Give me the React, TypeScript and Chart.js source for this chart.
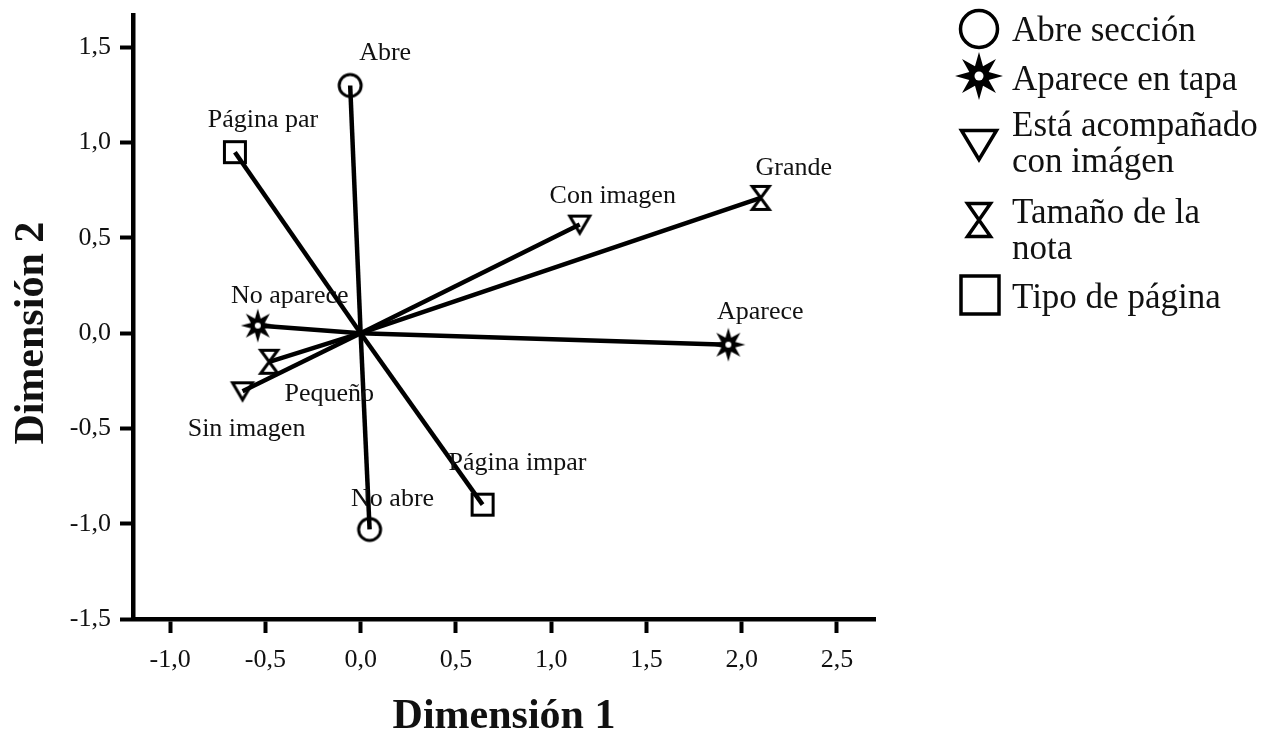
import React, { useEffect, useRef } from "react";
import { Chart, registerables } from "chart.js";

Chart.register(...registerables);

// ---------- data ----------
const categories = [
  "Abre",
  "No abre",
  "Página par",
  "Página impar",
  "Con imagen",
  "Sin imagen",
  "Grande",
  "Pequeño",
  "Aparece",
  "No aparece",
];
const dimension1 = [-0.055, 0.047, -0.66, 0.64, 1.15, -0.62, 2.1, -0.48, 1.93, -0.54];
const dimension2 = [1.3, -1.03, 0.95, -0.9, 0.57, -0.305, 0.71, -0.15, -0.06, 0.04];
const categoryMarkers = [
  "circle",
  "circle",
  "square",
  "square",
  "triangle",
  "triangle",
  "hourglass",
  "hourglass",
  "star",
  "star",
];
const xTickValues = [-1, -0.5, 0, 0.5, 1, 1.5, 2, 2.5];
const yTickValues = [-1.5, -1, -0.5, 0, 0.5, 1, 1.5];
const legendLabels = [
  ["Abre sección"],
  ["Aparece en tapa"],
  ["Está acompañado", "con imágen"],
  ["Tamaño de la", "nota"],
  ["Tipo de página"],
];
const legendMarkers = ["circle", "star", "triangle", "hourglass", "square"];
const xTitle = "Dimensión 1";
const yTitle = "Dimensión 2";

// ---------- layout / style (not data) ----------
const labelOffsets: [number, number][] = [
  [35, -32],
  [23, -30],
  [28, -32],
  [35, -42],
  [33, -28],
  [4, 38],
  [33, -30],
  [60, 32],
  [32, -32],
  [32, -29],
];
const legendMarkerPos: [number, number][] = [
  [979, 29],
  [979, 76],
  [979, 145],
  [979, 220],
  [980, 295],
];
const legendTextBaselines = [[41], [90], [136, 172], [223, 259], [308]];
const legendTextX = 1012;
const SERIF = "'Liberation Serif', 'Times New Roman', serif";

function makeMarker(kind: string, big: boolean): HTMLCanvasElement {
  const c = document.createElement("canvas");
  const size = big ? 56 : 40;
  c.width = size;
  c.height = size;
  const ctx = c.getContext("2d")!;
  ctx.translate(size / 2, size / 2);
  ctx.strokeStyle = "#000";
  ctx.fillStyle = "#000";
  ctx.lineJoin = "miter";
  ctx.lineWidth = big ? 3.5 : 3;
  if (kind === "circle") {
    const r = big ? 18.5 : 11;
    ctx.beginPath();
    ctx.arc(0, 0, r, 0, Math.PI * 2);
    ctx.stroke();
  } else if (kind === "square") {
    const s = big ? 38 : 21;
    ctx.strokeRect(-s / 2, -s / 2, s, s);
  } else if (kind === "triangle") {
    const w = big ? 35 : 20;
    const h = big ? 29 : 17;
    ctx.beginPath();
    ctx.moveTo(-w / 2, -h / 2);
    ctx.lineTo(w / 2, -h / 2);
    ctx.lineTo(0, h / 2);
    ctx.closePath();
    ctx.stroke();
  } else if (kind === "hourglass") {
    const w = big ? 23 : 17;
    const h = big ? 33 : 23;
    ctx.beginPath();
    ctx.moveTo(-w / 2, -h / 2);
    ctx.lineTo(w / 2, -h / 2);
    ctx.lineTo(-w / 2, h / 2);
    ctx.lineTo(w / 2, h / 2);
    ctx.closePath();
    ctx.stroke();
  } else if (kind === "star") {
    const R = big ? 24 : 17;
    const r = big ? 10.5 : 7.5;
    ctx.beginPath();
    for (let i = 0; i < 16; i++) {
      const a = -Math.PI / 2 + (i * Math.PI) / 8;
      const rad = i % 2 === 0 ? R : r;
      const px = Math.cos(a) * rad;
      const py = Math.sin(a) * rad;
      if (i === 0) ctx.moveTo(px, py);
      else ctx.lineTo(px, py);
    }
    ctx.closePath();
    ctx.fill();
    ctx.fillStyle = "#fff";
    ctx.beginPath();
    ctx.arc(0, 0, big ? 4.5 : 3, 0, Math.PI * 2);
    ctx.fill();
  }
  return c;
}

const fmt = (v: number) => v.toFixed(1).replace(".", ",");

export default function App() {
  const canvasRef = useRef<HTMLCanvasElement | null>(null);

  useEffect(() => {
    const canvas = canvasRef.current;
    if (!canvas) return;

    const smallMarkers: Record<string, HTMLCanvasElement> = {};
    const bigMarkers: Record<string, HTMLCanvasElement> = {};
    ["circle", "square", "triangle", "hourglass", "star"].forEach((k) => {
      smallMarkers[k] = makeMarker(k, false);
      bigMarkers[k] = makeMarker(k, true);
    });

    const datasets = categories.map((name, i) => ({
      label: name,
      data: [
        { x: 0, y: 0 },
        { x: dimension1[i], y: dimension2[i] },
      ],
      showLine: true,
      borderColor: "#000",
      borderWidth: 4.5,
      backgroundColor: "#000",
      pointRadius: [0, 8],
      pointHoverRadius: [0, 8],
      pointStyle: smallMarkers[categoryMarkers[i]] as any,
      clip: false as any,
    }));

    const decorPlugin = {
      id: "decor",
      afterDatasetsDraw(chart: any) {
        const ctx = chart.ctx as CanvasRenderingContext2D;
        ctx.save();
        ctx.fillStyle = "#111";
        ctx.font = `26px ${SERIF}`;
        ctx.textAlign = "center";
        ctx.textBaseline = "middle";
        categories.forEach((name, i) => {
          const pt = chart.getDatasetMeta(i).data[1];
          if (!pt) return;
          ctx.fillText(name, pt.x + labelOffsets[i][0], pt.y + labelOffsets[i][1]);
        });
        ctx.restore();
      },
      afterDraw(chart: any) {
        const ctx = chart.ctx as CanvasRenderingContext2D;
        // y axis title
        const yScale = chart.scales.y;
        ctx.save();
        ctx.translate(32, yScale.getPixelForValue(0));
        ctx.rotate(-Math.PI / 2);
        ctx.font = `bold 42px ${SERIF}`;
        ctx.fillStyle = "#111";
        ctx.textAlign = "center";
        ctx.textBaseline = "middle";
        ctx.fillText(yTitle, 0, 0);
        ctx.restore();

        // legend
        ctx.save();
        legendMarkers.forEach((k, i) => {
          const m = bigMarkers[k];
          const [mx, my] = legendMarkerPos[i];
          ctx.drawImage(m, mx - m.width / 2, my - m.height / 2);
        });
        ctx.font = `35px ${SERIF}`;
        ctx.fillStyle = "#111";
        ctx.textAlign = "left";
        ctx.textBaseline = "alphabetic";
        legendLabels.forEach((lines, i) => {
          lines.forEach((t, j) => {
            ctx.fillText(t, legendTextX, legendTextBaselines[i][j]);
          });
        });
        ctx.restore();
      },
    };

    const chart = new Chart(canvas, {
      type: "scatter",
      data: { datasets: datasets as any },
      options: {
        animation: false,
        responsive: true,
        maintainAspectRatio: false,
        layout: { padding: { left: 0, top: 15, right: 399, bottom: 0 } },
        plugins: {
          legend: { display: false },
          tooltip: { enabled: false },
        },
        scales: {
          x: {
            type: "linear",
            min: -1.195,
            max: 2.7,
            afterBuildTicks: (s: any) => {
              s.ticks = xTickValues.map((v) => ({ value: v }));
            },
            afterFit: (s: any) => {
              s.height = 113;
              s.paddingLeft = 0;
              s.paddingRight = 0;
            },
            grid: {
              display: true,
              drawOnChartArea: false,
              drawTicks: true,
              tickLength: 14,
              tickWidth: 4,
              tickColor: "#000",
            },
            border: { display: true, color: "#000", width: 4.5 },
            ticks: {
              color: "#111",
              padding: 12,
              maxRotation: 0,
              autoSkip: false,
              font: { family: SERIF, size: 26 },
              callback: (v: any) => fmt(Number(v)),
            },
            title: {
              display: true,
              text: xTitle,
              color: "#111",
              font: { family: SERIF, size: 42, weight: "bold", lineHeight: 0.7 },
              padding: { top: 0, bottom: 0 },
            },
          },
          y: {
            type: "linear",
            min: -1.5,
            max: 1.67,
            afterBuildTicks: (s: any) => {
              s.ticks = yTickValues.map((v) => ({ value: v }));
            },
            afterFit: (s: any) => {
              s.width = 133;
              s.paddingTop = 0;
              s.paddingBottom = 0;
            },
            grid: {
              display: true,
              drawOnChartArea: false,
              drawTicks: true,
              tickLength: 13,
              tickWidth: 4,
              tickColor: "#000",
            },
            border: { display: true, color: "#000", width: 4.5 },
            ticks: {
              color: "#111",
              padding: 9,
              autoSkip: false,
              font: { family: SERIF, size: 26 },
              callback: (v: any) => fmt(Number(v)),
            },
            title: { display: false },
          },
        },
      },
      plugins: [decorPlugin],
    });

    return () => {
      chart.destroy();
    };
  }, []);

  return (
    <div
      style={{
        position: "fixed",
        left: 0,
        top: 0,
        width: 1274,
        height: 732,
        background: "#fff",
      }}
    >
      <canvas ref={canvasRef} />
    </div>
  );
}
